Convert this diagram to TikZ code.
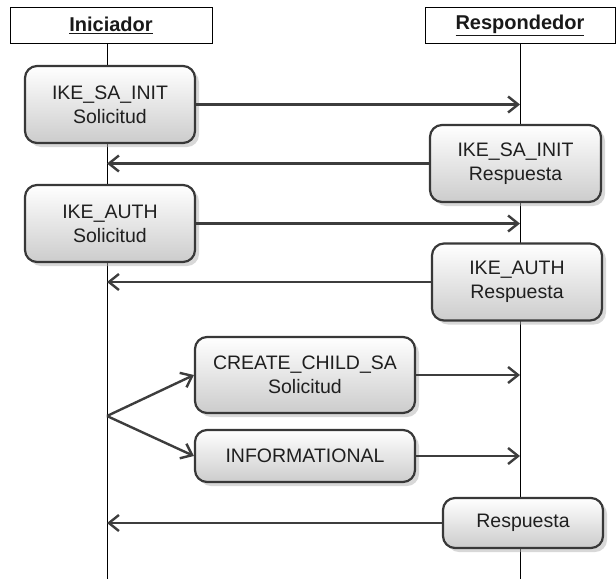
\documentclass[tikz,border=0pt]{standalone}
\usepackage{fontspec}
\setmainfont{Liberation Sans}
\usetikzlibrary{arrows.meta,shadows}

\begin{document}
\begin{tikzpicture}[x=1pt,y=-1pt,
  lane/.style={draw=black, line width=0.9pt, fill=white, minimum width=#1,
    minimum height=36pt, inner sep=0pt, text=black!90,
    font=\fontsize{20}{22}\selectfont\bfseries},
  msg/.style={draw=black!78, line width=2.2pt, rounded corners=12pt,
    top color=white, bottom color=black!20,
    drop shadow={shadow xshift=4pt, shadow yshift=-4pt, fill=black!30},
    align=center, inner sep=0pt, text=black!88,
    font=\fontsize{19.5}{24}\selectfont},
  life/.style={line width=0.9pt, black},
  flow/.style={draw=black!76, line width=2.4pt,
    -{Straight Barb[length=10pt,width=16pt]}}
]
\useasboundingbox (0,0) rectangle (616,579);

% participants
\node[lane=202pt] (ini) at (111,25) {\underline{Iniciador}};
\node[lane=190pt] (res) at (520,25) {\underline{Respondedor}};

% lifelines
\coordinate (iTop) at (107,43);
\coordinate (iBot) at (107,579);
\coordinate (rTop) at (520,43);
\coordinate (rBot) at (520,579);
\draw[life] (iTop) -- (iBot);
\draw[life] (rTop) -- (rBot);

% exchanges
\node[msg, minimum width=170pt, minimum height=77pt] (saReq)  at (110,104.5) {IKE\_SA\_INIT\\Solicitud};
\node[msg, minimum width=171pt, minimum height=77pt] (saRes)  at (515.5,163.5) {IKE\_SA\_INIT\\Respuesta};
\node[msg, minimum width=170pt, minimum height=77pt] (auReq)  at (110,223.5) {IKE\_AUTH\\Solicitud};
\node[msg, minimum width=170pt, minimum height=77pt] (auRes)  at (517,282) {IKE\_AUTH\\Respuesta};
\node[msg, minimum width=220pt, minimum height=76pt] (chReq)  at (305,375) {CREATE\_CHILD\_SA\\Solicitud};
\node[msg, minimum width=220pt, minimum height=52pt] (info)   at (305,456) {INFORMATIONAL};
\node[msg, minimum width=160pt, minimum height=50pt] (resp)   at (523,523) {Respuesta};

% messages between the lifelines
\draw[flow] (saReq.east) -- (saReq.east -| rTop);
\draw[flow] (saRes.west) -- (saRes.west -| iTop);
\draw[flow] (auReq.east) -- (auReq.east -| rTop);
\draw[flow] (auRes.west) -- (auRes.west -| iTop);
\draw[flow] (chReq.east) -- (chReq.east -| rTop);
\draw[flow] (info.east)  -- (info.east -| rTop);
\draw[flow] (resp.west)  -- (resp.west -| iTop);

% fork from the initiator into the two optional requests
\coordinate (fork) at (107,416);
\draw[flow] (fork) -- (chReq.west);
\draw[flow] (fork) -- (info.west);
\end{tikzpicture}
\end{document}
